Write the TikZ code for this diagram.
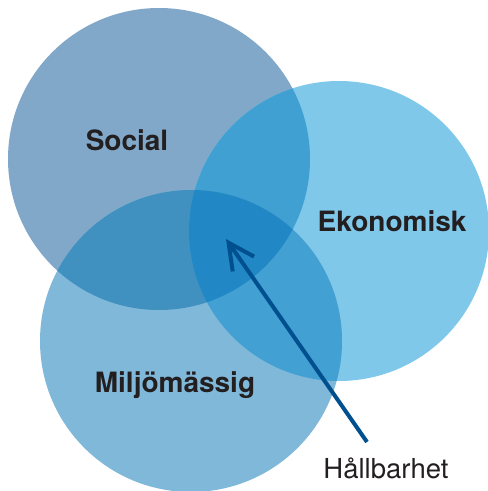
\documentclass[tikz,border=0pt]{standalone}
\usepackage{fontspec}
\setmainfont{TeX Gyre Heros}
\usetikzlibrary{arrows.meta}
\definecolor{cSoc}{RGB}{129,168,201}
\definecolor{cEko}{RGB}{128,200,234}
\definecolor{cMil}{RGB}{128,184,218}
\definecolor{cSE}{RGB}{64,160,210}
\definecolor{cSM}{RGB}{64,144,192}
\definecolor{cEM}{RGB}{66,160,210}
\definecolor{cAll}{RGB}{33,136,197}
\definecolor{cArrow}{RGB}{0,80,143}
\definecolor{cText}{RGB}{35,31,32}
\tikzset{
  lbl/.style={font=\bfseries\fontsize{28}{28}\selectfont, text=cText, anchor=base, inner sep=0pt},
  lblreg/.style={font=\fontsize{27.5}{27.5}\selectfont, text=cText, anchor=base, inner sep=0pt},
  pointer/.style={draw=cArrow, line width=4pt, -{Straight Barb[length=26pt,width=26pt,line width=4pt]}}
}
\begin{document}
\begin{tikzpicture}[x=1pt,y=-1pt]
\useasboundingbox (0,0) rectangle (488,491);
\def\SOC{(159,159) circle (151)}
\def\EKO{(339,231) circle (150)}
\def\MIL{(191,341) circle (151)}
\fill[cSoc] \SOC;
\fill[cEko] \EKO;
\fill[cMil] \MIL;
\begin{scope}
  \clip \SOC;
  \fill[cSE] \EKO;
  \fill[cSM] \MIL;
\end{scope}
\begin{scope}
  \clip \EKO;
  \fill[cEM] \MIL;
\end{scope}
\begin{scope}
  \clip \SOC;
  \clip \EKO;
  \fill[cAll] \MIL;
\end{scope}
\node[lbl] (soc) at (127,150) {Social};
\node[lbl] (eko) at (392,231) {Ekonomisk};
\node[lbl] (mil) at (175,392) {Miljömässig};
\node[lblreg] (hal) at (386,478) {Hållbarhet};
\coordinate (tail) at (367,442);
\coordinate (tip) at (226,239);
\draw[pointer] (tail) -- (tip);
\end{tikzpicture}
\end{document}
